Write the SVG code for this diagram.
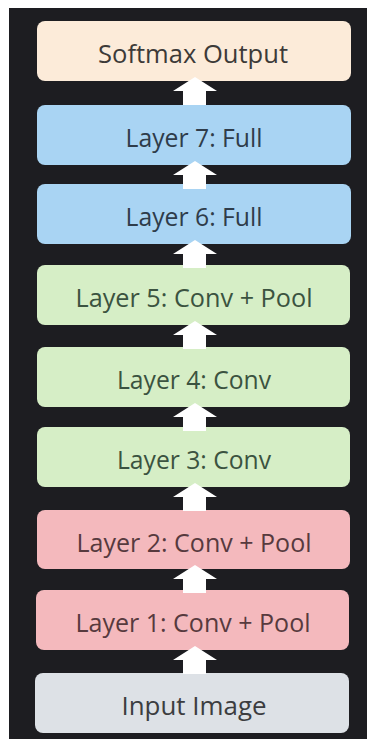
<svg xmlns="http://www.w3.org/2000/svg" width="367" height="739" viewBox="0 0 367 739">
<style>
.box{stroke:none}
.lbl{font-family:"Open Sans","Liberation Sans",sans-serif;font-size:25px;text-anchor:middle}
.arr{fill:#ffffff}
</style>
<defs>
<path id="ar" d="M0,0 L22,14 L11,14 L11,28 L-12,28 L-12,14 L-22,14 Z"/>
</defs>
<rect x="0" y="0" width="367" height="739" fill="#ffffff"/>
<rect x="9" y="8" width="358" height="731" fill="#1d1d21"/>
<g id="softmax"><rect class="box" x="37" y="21" width="314" height="60" rx="8" fill="#fcebd9"/><text class="lbl" x="193" y="63" fill="#3d3a38" textLength="190" lengthAdjust="spacingAndGlyphs">Softmax Output</text></g>
<g id="layer7"><rect class="box" x="37" y="105" width="314" height="60" rx="8" fill="#a9d4f3"/><text class="lbl" x="194" y="147" fill="#2f3c4a" textLength="137" lengthAdjust="spacingAndGlyphs">Layer 7: Full</text></g>
<g id="layer6"><rect class="box" x="37" y="184" width="314" height="60" rx="8" fill="#a9d4f3"/><text class="lbl" x="194" y="226" fill="#2f3c4a" textLength="137" lengthAdjust="spacingAndGlyphs">Layer 6: Full</text></g>
<g id="layer5"><rect class="box" x="37" y="265" width="313" height="60" rx="8" fill="#d6eec6"/><text class="lbl" x="194" y="307" fill="#3b5340" textLength="237" lengthAdjust="spacingAndGlyphs">Layer 5: Conv + Pool</text></g>
<g id="layer4"><rect class="box" x="37" y="347" width="313" height="60" rx="8" fill="#d6eec6"/><text class="lbl" x="194" y="389" fill="#3b5340" textLength="154" lengthAdjust="spacingAndGlyphs">Layer 4: Conv</text></g>
<g id="layer3"><rect class="box" x="37" y="427" width="313" height="60" rx="8" fill="#d6eec6"/><text class="lbl" x="194" y="469" fill="#3b5340" textLength="154" lengthAdjust="spacingAndGlyphs">Layer 3: Conv</text></g>
<g id="layer2"><rect class="box" x="37" y="510" width="313" height="59" rx="8" fill="#f4b9bd"/><text class="lbl" x="194" y="552" fill="#573a3e" textLength="235" lengthAdjust="spacingAndGlyphs">Layer 2: Conv + Pool</text></g>
<g id="layer1"><rect class="box" x="36" y="590" width="313" height="60" rx="8" fill="#f4b9bd"/><text class="lbl" x="193" y="632" fill="#573a3e" textLength="235" lengthAdjust="spacingAndGlyphs">Layer 1: Conv + Pool</text></g>
<g id="input"><rect class="box" x="35" y="673" width="314" height="60" rx="8" fill="#dde1e6"/><text class="lbl" x="194" y="715" fill="#3c3d40" textLength="145" lengthAdjust="spacingAndGlyphs">Input Image</text></g>
<g id="connectors" class="arr">
<use href="#ar" x="195" y="77"/>
<use href="#ar" x="195" y="161"/>
<use href="#ar" x="195" y="240"/>
<use href="#ar" x="195" y="321"/>
<use href="#ar" x="195" y="403"/>
<use href="#ar" x="195" y="483"/>
<use href="#ar" x="195" y="565"/>
<use href="#ar" x="195" y="646"/>
</g>
</svg>
